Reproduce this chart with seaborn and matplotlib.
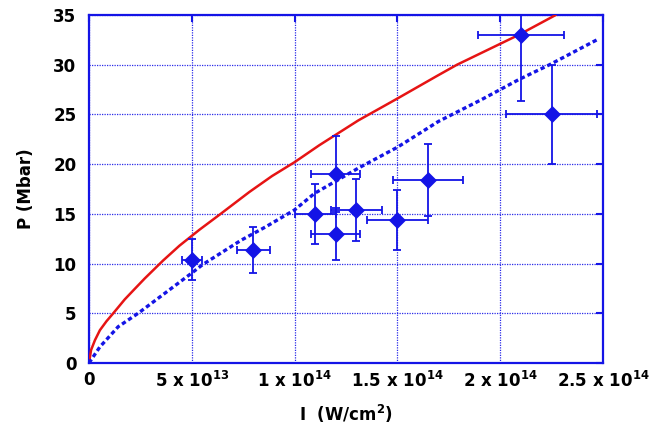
import matplotlib
matplotlib.use("Agg")
import matplotlib.pyplot as plt
import seaborn as sns
import pandas as pd

# ---- data ----
exp_I = [5.0e13, 8.0e13, 1.1e14, 1.2e14, 1.2e14, 1.3e14, 1.5e14, 1.65e14, 2.1e14, 2.25e14]
exp_P = [10.4, 11.4, 15.0, 19.0, 13.0, 15.4, 14.4, 18.4, 33.0, 25.0]
exp_Ierr = [0.5e13, 0.8e13, 1.0e13, 1.2e13, 1.2e13, 1.25e13, 1.5e13, 1.7e13, 2.1e13, 2.2e13]
exp_Perr = [2.1, 2.3, 3.0, 3.8, 2.6, 3.1, 3.0, 3.6, 6.6, 5.0]

red_I = [0.0, 0.1e13, 0.29e13, 0.53e13, 0.85e13, 1.18e13, 1.74e13, 2.2e13, 2.71e13, 3.6e13,
         4.4e13, 5.37e13, 6.34e13, 7.8e13, 8.9e13, 1.0e14, 1.12e14, 1.31e14, 1.5e14,
         1.695e14, 1.79e14, 1.99e14, 2.09e14, 2.27e14]
red_P = [0.0, 1.3, 2.3, 3.3, 4.2, 5.0, 6.4, 7.4, 8.5, 10.3,
         11.8, 13.4, 14.9, 17.2, 18.8, 20.2, 21.9, 24.4, 26.6,
         28.9, 30.0, 32.0, 33.0, 35.0]

blue_I = [0.0, 0.53e13, 1.42e13, 2.39e13, 3.68e13, 5.0e13, 5.53e13, 7.4e13, 8.6e13,
          1.0e14, 1.097e14, 1.31e14, 1.5e14, 1.7e14, 1.91e14, 2.09e14, 2.24e14, 2.47e14]
blue_P = [0.0, 1.62, 3.65, 5.0, 7.0, 9.05, 9.9, 12.35, 13.7,
          15.4, 17.06, 19.6, 21.7, 24.3, 26.5, 28.5, 30.0, 32.5]

x_ticks = [0, 5e13, 1e14, 1.5e14, 2e14, 2.5e14]
x_ticklabels = ["0", r"5 x 10$^{13}$", r"1 x 10$^{14}$", r"1.5 x 10$^{14}$",
                r"2 x 10$^{14}$", r"2.5 x 10$^{14}$"]
y_ticks = [0, 5, 10, 15, 20, 25, 30, 35]

BLUE = "#1414e6"
RED = "#e61414"

sns.set_style("white")
plt.rcParams["font.family"] = ["DejaVu Sans"]
plt.rcParams["mathtext.fontset"] = "dejavusans"
plt.rcParams["mathtext.default"] = "bf"
plt.rcParams["text.color"] = "black"
plt.rcParams["axes.labelcolor"] = "black"

fig = plt.figure(figsize=(6.68, 4.26), dpi=100)
ax = fig.add_axes([89 / 668, 1 - 363 / 426, (603 - 89) / 668, (363 - 15) / 426])

red_df = pd.DataFrame({"I": red_I, "P": red_P})
blue_df = pd.DataFrame({"I": blue_I, "P": blue_P})
exp_df = pd.DataFrame({"I": exp_I, "P": exp_P})

sns.lineplot(data=red_df, x="I", y="P", ax=ax, color=RED, linewidth=1.8,
             sort=False, estimator=None, zorder=3)
sns.lineplot(data=blue_df, x="I", y="P", ax=ax, color=BLUE, linewidth=2.4,
             sort=False, estimator=None, zorder=3, linestyle=(0, (1.3, 0.9)),
             dash_capstyle="butt")
ax.errorbar(exp_I, exp_P, xerr=exp_Ierr, yerr=exp_Perr, fmt="none",
            ecolor=BLUE, elinewidth=1.3, capsize=3, capthick=1.3, zorder=4)
sns.scatterplot(data=exp_df, x="I", y="P", ax=ax, marker="D", s=75,
                color=BLUE, edgecolor=BLUE, linewidth=0, zorder=5)

ax.set_xlim(0, 2.5e14)
ax.set_ylim(0, 35)
ax.set_xticks(x_ticks)
ax.set_xticklabels(x_ticklabels)
ax.set_yticks(y_ticks)
ax.set_yticklabels([str(v) for v in y_ticks])

ax.grid(True, color=BLUE, linestyle=(0, (1, 1)), linewidth=0.9, alpha=0.9)
for sp in ax.spines.values():
    sp.set_color(BLUE)
    sp.set_linewidth(1.6)
    sp.set_visible(True)

ax.tick_params(direction="in", length=5, width=1.5, color=BLUE,
               top=True, right=True, labelsize=12, pad=9, labelcolor="black")
for lab in ax.get_xticklabels() + ax.get_yticklabels():
    lab.set_fontweight("bold")
ax.tick_params(axis="x", pad=6)

ax.set_xlabel(r"I  (W/cm$^{2}$)", fontsize=12, fontweight="bold", labelpad=8,
              color="black")
ax.set_ylabel("P (Mbar)", fontsize=12, fontweight="bold", labelpad=13,
              color="black")

fig.savefig("out.png", dpi=100)
